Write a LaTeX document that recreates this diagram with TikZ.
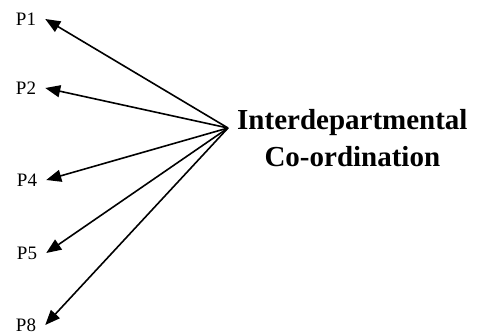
\documentclass[tikz,border=0pt]{standalone}
\usepackage{fontspec}
\setmainfont{Liberation Serif}
\usetikzlibrary{positioning, arrows.meta}

\begin{document}
\begin{tikzpicture}[x=1pt,y=-1pt,every node/.style={inner xsep=9pt,inner ysep=4pt,{font=\fontsize{19}{22}\selectfont}},>={Triangle[length=15pt,width=12pt]}]
    \useasboundingbox (0,0) rectangle (487,334);
    \coordinate (hub) at (228,128);

    \node (p1) at (26,19) {P1};
    \node (p2) at (26,88) {P2};
    \node (p4) at (27,180) {P4};
    \node (p5) at (27,253) {P5};
    \node (p8) at (26,325) {P8};
    \node [right=5pt of hub, yshift=-10pt, align=center, inner sep=4pt, font=\bfseries\fontsize{29}{37}\selectfont] (coordination) {Interdepartmental\\Co-ordination};

    \foreach \p in {p1,p2,p4,p5,p8}
        \draw [->, line width=1.6pt] (hub) -- (\p.east);
\end{tikzpicture}
\end{document}
